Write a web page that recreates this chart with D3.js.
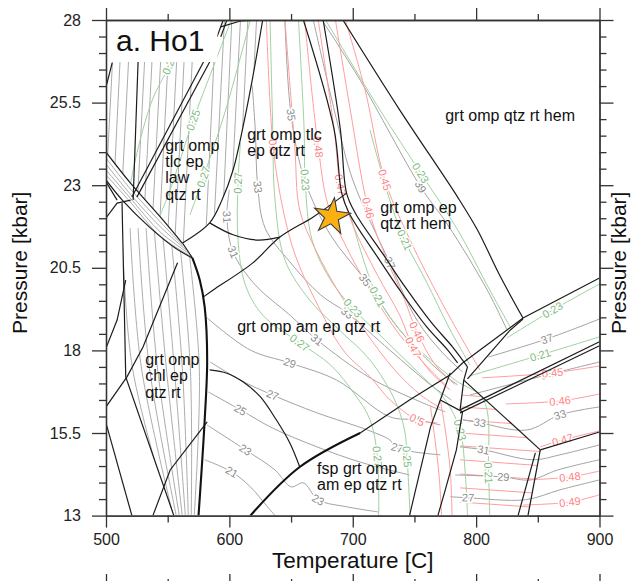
<!DOCTYPE html>
<html><head><meta charset="utf-8">
<script src="https://cdn.jsdelivr.net/npm/d3@7"></script>
<style>
body{margin:0;background:#fff}
svg{display:block;font-family:"Liberation Sans",Arial,sans-serif}
</style></head><body>
<svg id="chart" width="635" height="581"></svg>
<script>
// axis ticks (temperature C, pressure kbar)
const xMajor = [500,600,700,800,900];
const xMinor = [550,650,750,850];
const yMajor = [13,15.5,18,20.5,23,25.5,28];
const yMinor = [13.5,14,14.5,15,16,16.5,17,17.5,18.5,19,19.5,20,21,21.5,22,22.5,23.5,24,24.5,25,26,26.5,27,27.5];

// field boundaries [T, P]
const curvedBounds = [
  [[627,28],[619,26.28],[611,24.76],[603,23.46],[594,22.55],[584,21.86],[562,21.25]],
  [[584,21.86],[603,21.5],[623,21.34],[641,21.43]],
  [[579,19.62],[587,19.83],[619,20.65],[641,21.43],[668,22.04],[695,22.76]],
  [[660,28],[685,24.67],[691,22.76],[697,22.16],[720,20.83],[738,19.83],[760,18.71],[777,18.01],[785,17.62]],
  [[676,28],[690,24.67],[695,22.76],[702,22.16],[725,20.89],[743,19.89],[764,18.83],[781,18.1],[793,17.5]],
  [[692,28],[738,25.28],[785,22.64],[801,21.65],[819,20.28],[838,18.98]],
  [[584,17.41],[598,17.31],[611,17.05],[625,16.6],[638,15.9],[649,15.2],[657,14.48]],
  [[500,24.0],[519.7,23.07],[544,22.04],[561.8,21.25]],
  [[500,23.16],[513.2,22.55],[535.9,21.71],[556.1,21.1],[569.9,20.8]]
];
const straightBounds = [
  [[793,17.5],[790,17.1],[787,16.2]],
  [[562,21.25],[570,20.8]],
  [[706,15.5],[746,16.5],[779,17.26],[789,17.62],[838,18.98],[900,20.19]],
  [[838,18.95],[827,18.59],[793,17.14]],
  [[787,16.2],[900,18.26]],
  [[787,16.11],[900,18.14]],
  [[779,17.32],[773,16.71],[763,15.68],[746,13]],
  [[771,16.5],[789,16.14]],
  [[789,16.14],[784,14.99],[775,13.78],[769,13]],
  [[790,17.1],[852,14.99]],
  [[852,14.99],[900,15.53]],
  [[852,14.99],[842,13]],
  [[848,14.9],[834,13]],
  [[526,26.73],[522,22.55]],
  [[579,26.73],[521,22.64]],
  [[584,26.73],[525,22.64]],
  [[500,25.97],[505,26.7]],
  [[500,23.1],[509,22.55]],
  [[500,22.01],[509,22.46],[520,22.55]],
  [[500,18.07],[509,18.92],[516,20.13]],
  [[500,16.29],[517,17.2],[530,18.1],[544,19.38],[558,20.65]],
  [[500,15.8],[521,13]],
  [[538,13],[552,14.38],[582,15.84]],
  [[513,22.46],[516,17.2],[555,13]],
  [[593,27.79],[609,27.97],[623,28]],
  [[595,28],[590,27.49]],
  [[598,28],[593,27.49]]
];
const thickBounds = [
  [[570,20.8],[576,20.13],[580,19.31],[582,17.71],[580,15.9],[575,13]],
  [[617,13],[657,14.47],[706,15.5]]
];

// field outlines used to hold the dense isopleth fans
const ulField = [[500,28],[627,28],[619,26.28],[611,24.76],[603,23.46],[594,22.55],[584,21.86],[562,21.25],[544,22.04],[519.7,23.07],[500,24.0]];
const bandField = [[513.2,22.46],[535.9,21.71],[556.1,21.1],[569.9,20.8],[576.4,20.13],[580.4,19.31],[582.1,17.71],[579.6,15.9],[574.8,13],[554.5,13],[515.6,17.2]];
const wedgeField = [[787,16.2],[789,16.14],[784,14.99],[775,13.78],[769,13],[842,13],[852,14.99],[790,17.1]];

const ulHatch = [
  [[507,28],[497,20.74]],[[513,28],[503.5,20.74]],[[520,28],[510,20.74]],[[533,28],[523,20.74]],
  [[539,28],[529,20.74]],[[546,28],[536,20.74]],[[552,28],[542,20.74]],[[559,28],[549,20.74]],
  [[565,28],[555,20.74]],[[571.5,28],[562,20.74]],[[589,28],[580,20.74]],[[596,28],[586,20.74]],
  [[602,28],[593,20.74]],[[609,28],[599,20.74]],[[615,28],[605.5,20.74]],[[622,28],[612,20.74]]
];
const bandHatch = [
  [[513,21.7],[521.3,17.5],[552.1,13]],[[519.5,21.7],[528.6,17.5],[554.5,13]],
  [[526,21.7],[535.1,17.5],[556.9,13]],[[532.5,21.7],[541.6,17.5],[559.4,13]],
  [[539,21.7],[548.8,17.5],[561.8,13]],[[545.5,21.7],[555.3,17.5],[564.3,13]],
  [[552,21.7],[561.8,17.5],[566.7,13]],[[558.5,21.7],[568.3,17.5],[569.1,13]],
  [[565,21.7],[575.6,17.5],[571.5,13]]
];
const diagHatch = [
  [[500,23.82],[519.7,22.89],[544,21.89],[562.6,21.16]],
  [[500,23.64],[519.7,22.73],[544,21.74],[565,21.04]],
  [[500,23.46],[519.7,22.61],[544,21.58],[566.7,20.95]],
  [[500,23.31],[519.7,22.49],[544,21.46],[568.3,20.86]]
];
const wedgeRed = [
  [[787,16.65],[856,16.47]],[[787,16.29],[856,16.11]],[[787,15.9],[856,15.71]],
  [[787,15.5],[856,15.32]],[[787,15.11],[856,14.93]],[[787,14.69],[856,14.5]],
  [[787,14.26],[856,14.08]],[[787,13.84],[856,13.66]],[[787,13.41],[856,13.23]]
];

// isopleths: gray (odd numbers), green and red (fractions)
const grayIso = [
  {v:"39", pts:[[675,28],[706,26.18],[755,22.95],[777,21.8],[809,19.83],[825,18.62]], at:[2]},
  {v:"37", pts:[[668,28],[687,24.97],[700,23.16],[730,20.65],[752,18.92],[773,17.92],[789,17.35]], at:[3]},
  {v:"35", pts:[[645,28],[650,25.13],[661,23.16],[682,21.49],[710,20.13],[738,18.62],[771,17.35],[785,16.96]], at:[1,4]},
  {v:"33", pts:[[618.5,26.03],[621,24.67],[623,22.95],[629,21.7],[649,20.68],[674,19.68],[695.5,19.13],[730,18.01],[763,16.96],[780,16.5]], at:[2,6]},
  {v:"31", pts:[[600,22.86],[598,22.04],[603,20.98],[621,19.98],[649,19.07],[671,18.32],[714,17.17],[755,16.44],[775,16.14]], at:[1,2,5]},
  {v:"29", pts:[[582,18.98],[617,18.01],[649,17.62],[687,17.1],[730,15.99],[752,15.9],[771,15.74]], at:[2,5]},
  {v:"27", pts:[[584.5,17.65],[609,17.1],[635,16.65],[671,16.11],[712,15.59],[730,15.29],[736,15.05],[771,14.84]], at:[2,6]},
  {v:"25", pts:[[583,16.74],[609,16.2],[635,15.65],[671,15.08],[706,14.62],[746,14.23]], at:[1]},
  {v:"23", pts:[[582,15.74],[613,14.99],[637,14.38],[650,13.87],[660,13.99],[672,13.48],[696,13.26],[721,13.11]], at:[1,5]},
  {v:"21", pts:[[580,14.69],[602,14.32],[617,13.87],[631,13.26],[637,13.0]], at:[1]},
  {v:"37", pts:[[810,17.8],[857.5,18.35],[900,18.95]], at:[1]},
  {v:"35", pts:[[795,16.65],[857.5,17.26],[900,17.65]], at:[1]},
  {v:"33", pts:[[789,15.9],[803,15.81],[841,15.59],[868,16.05],[900,16.29]], at:[1,3]},
  {v:"31", pts:[[787,15.08],[806,14.99],[846,14.69],[868,14.84],[900,15.14]], at:[1]},
  {v:"29", pts:[[783,14.23],[822,14.17],[844,14.08],[866,14.38],[900,14.69]], at:[1]},
  {v:"27", pts:[[779,13.57],[793.5,13.54],[840,13.48],[868,13.78],[900,14.08]], at:[1]}
];
const greenUL = [
  {v:"0.2", pts:[[557,27.4],[550.5,26.58],[537.5,25.58],[523.7,23.76],[517,22.4]], at:[1]},
  {v:"0.25", pts:[[601.5,28],[588.5,26.73],[570.7,24.97],[552,22.86],[544,22.1]], at:[2]},
  {v:"0.27", pts:[[617,28],[597,25.28],[579,23.25],[568,22.1]], at:[2]}
];
const greenIso = [
  {v:"0.27", pts:[[609,24.28],[607,23.07],[607,21.34],[613,19.98],[627,19.07],[657,18.23],[682,17.56],[702,16.65],[714,15.9],[720,14.78],[721,13.0]], at:[1,5,9]},
  {v:"0.25", pts:[[633,28],[635,24.97],[637,22.55],[645,20.74],[665,19.53],[689,18.62],[714,17.71],[734,16.5],[742,15.59],[744,14.78],[746.5,13]], at:[9]},
  {v:"0.23", pts:[[656,28],[660.6,24.67],[661.4,23.16],[667,21.34],[682,20.13],[700,19.28],[726,18.32],[755,17.26],[775,16.5],[787,15.59],[791,14.38],[793,13]], at:[2,5,9]},
  {v:"0.21", pts:[[698,22.1],[710,20.59],[720,19.62],[738,18.62],[763,17.71],[783,17.1],[806,16.5],[810,14.29],[811,13]], at:[2,7]},
  {v:"0.21", pts:[[714,24.67],[730,22.55],[742,21.34],[759,20.13],[779,18.62],[795,17.56]], at:[2]},
  {v:"0.23", pts:[[678,28],[722,25.28],[755,23.37],[785,21.65],[811,19.83],[829,18.62]], at:[2]},
  {v:"0.23", pts:[[825,18.38],[862,19.22],[900,20.01]], at:[1]},
  {v:"0.21", pts:[[795,17.23],[852,17.86],[900,18.41]], at:[1]}
];
const redIso = [
  {v:"0.5", pts:[[630,28],[635.5,24.16],[643.6,22.25],[653.3,20.89],[669.5,19.53],[692.2,18.01],[714.1,17.2],[730.3,16.5],[752.2,15.9],[768.4,15.81]], at:[1,8]},
  {v:"0.49", pts:[[645,28],[653,24.16],[657,22.25],[670,21.04],[690,19.68],[712,18.47],[734,17.41],[755,16.65],[771,16.26]], at:[]},
  {v:"0.48", pts:[[661,28],[672,24.16],[680,22.4],[694,21.19],[714,19.83],[738,18.47],[759,17.56],[775,16.96]], at:[1]},
  {v:"0.47", pts:[[672,28],[685,24.67],[690,23.01],[700,21.8],[720,20.28],[738,19.07],[749,18.1],[763,17.35],[779,16.8]], at:[2,6]},
  {v:"0.46", pts:[[686,28],[698,25.28],[712.5,22.31],[726,20.89],[742,19.53],[752,18.56],[767,17.56],[783,16.96]], at:[2,5]},
  {v:"0.45", pts:[[694,28],[710,25.88],[726,23.16],[746.5,21.34],[771,19.53],[789,18.32],[803,17.41]], at:[2]},
  {v:"", pts:[[771,16.5],[775,15.59],[779,14.38],[780.5,13]], at:[]},
  {v:"", pts:[[763,16.3],[767,15.2],[770,14.2],[772,13]], at:[]},
  {v:"0.45", pts:[[805,17.17],[862,17.32],[900,17.53]], at:[1]},
  {v:"0.46", pts:[[824,16.38],[868,16.47],[900,16.68]], at:[1]},
  {v:"0.47", pts:[[852,15.08],[870,15.29],[900,15.56]], at:[1]},
  {v:"0.48", pts:[[842,14.08],[876,14.17],[900,14.35]], at:[1]},
  {v:"0.49", pts:[[838,13.32],[876,13.41],[900,13.63]], at:[1]}
];

// field names: anchor [T, P] of first baseline
const fieldNames = [
  {t:["grt omp","tlc ep","law","qtz rt"], at:[548,24.04]},
  {t:["grt omp tlc","ep qtz rt"], at:[614.4,24.37]},
  {t:["grt omp ep","qtz rt hem"], at:[722.2,22.16]},
  {t:["grt omp qtz rt hem"], at:[774.9,24.94]},
  {t:["grt omp am ep qtz rt"], at:[606.3,18.56]},
  {t:["grt omp","chl ep","qtz rt"], at:[531.8,17.56]},
  {t:["fsp grt omp","am ep qtz rt"], at:[671.1,14.26]}
];
const sample = [[683,22.05]];

const svg = d3.select("#chart");
const x = d3.scaleLinear().domain([500,900]).range([106,599.5]);
const y = d3.scaleLinear().domain([13,28]).range([515.6,20]);

const lin = d3.line().x(d => x(d[0])).y(d => y(d[1]));
const smooth = d3.line().x(d => x(d[0])).y(d => y(d[1])).curve(d3.curveCatmullRom.alpha(0.5));
const poly = d => lin(d) + "Z";

const defs = svg.append("defs");
defs.append("clipPath").attr("id","plot").append("rect")
  .attr("x", x(500)).attr("y", y(28)).attr("width", x(900)-x(500)).attr("height", y(13)-y(28));
defs.append("clipPath").attr("id","ul").append("path").attr("d", poly(ulField));
defs.append("clipPath").attr("id","band").append("path").attr("d", poly(bandField));
defs.append("clipPath").attr("id","wedge").append("path").attr("d", poly(wedgeField));

const plot = svg.append("g").attr("clip-path","url(#plot)");

const GRAY = "#a3a3a3", GREEN = "#9fd19f", RED = "#ff9d9d";

plot.append("g").attr("clip-path","url(#ul)").selectAll("path").data(ulHatch).join("path")
  .attr("d", lin).attr("fill","none").attr("stroke",GRAY).attr("stroke-width",0.9);
plot.append("g").attr("clip-path","url(#ul)").selectAll("path").data(greenUL).join("path")
  .attr("d", d => smooth(d.pts)).attr("fill","none").attr("stroke",GREEN).attr("stroke-width",1);
plot.append("g").attr("clip-path","url(#band)").selectAll("path").data(bandHatch).join("path")
  .attr("d", smooth).attr("fill","none").attr("stroke",GRAY).attr("stroke-width",0.9);
plot.append("g").selectAll("path").data(diagHatch).join("path")
  .attr("d", smooth).attr("fill","none").attr("stroke",GRAY).attr("stroke-width",0.9);
plot.append("g").attr("clip-path","url(#wedge)").selectAll("path").data(wedgeRed).join("path")
  .attr("d", lin).attr("fill","none").attr("stroke",RED).attr("stroke-width",1);

plot.append("g").selectAll("path").data(grayIso).join("path")
  .attr("d", d => smooth(d.pts)).attr("fill","none").attr("stroke",GRAY).attr("stroke-width",1);
plot.append("g").selectAll("path").data(greenIso).join("path")
  .attr("d", d => smooth(d.pts)).attr("fill","none").attr("stroke",GREEN).attr("stroke-width",1);
plot.append("g").selectAll("path").data(redIso).join("path")
  .attr("d", d => smooth(d.pts)).attr("fill","none").attr("stroke",RED).attr("stroke-width",1);

// isopleth labels, turned along the line
function addLabels(list, color) {
  const g = plot.append("g");
  list.forEach(l => l.at.forEach(i => {
    const p = l.pts[i], a = l.pts[Math.max(i-1,0)], b = l.pts[Math.min(i+1,l.pts.length-1)];
    let ang = Math.atan2(y(b[1])-y(a[1]), x(b[0])-x(a[0])) * 180 / Math.PI;
    if (ang > 90) ang -= 180;
    if (ang < -90) ang += 180;
    g.append("text")
      .attr("transform", `translate(${x(p[0])},${y(p[1])}) rotate(${ang})`)
      .attr("text-anchor","middle").attr("dy","0.35em")
      .attr("fill", color).attr("stroke","#fff").attr("stroke-width",3).attr("paint-order","stroke")
      .style("font-size","11px").text(l.v);
  }));
}
addLabels(grayIso, "#8c8c8c");
addLabels(greenIso, "#7dbb7d");
addLabels(greenUL, "#7dbb7d");
addLabels(redIso, "#ff7f7f");

plot.append("g").selectAll("path").data(curvedBounds).join("path")
  .attr("d", smooth).attr("fill","none").attr("stroke","#1c1c1c").attr("stroke-width",1.2);
plot.append("g").selectAll("path").data(straightBounds).join("path")
  .attr("d", lin).attr("fill","none").attr("stroke","#1c1c1c").attr("stroke-width",1.2);
plot.append("g").selectAll("path").data(thickBounds).join("path")
  .attr("d", smooth).attr("fill","none").attr("stroke","#111").attr("stroke-width",2.1);

// field names
const fl = plot.append("g").style("font-size","16px").attr("fill","#111");
fieldNames.forEach(f => {
  f.t.forEach((s, i) => fl.append("text").attr("x", x(f.at[0])).attr("y", y(f.at[1]) + i*16.3).text(s));
});

// panel title box
plot.append("rect").attr("x", x(500)).attr("y", y(28)).attr("width", x(590.3)-x(500)).attr("height", y(26.73)-y(28)).attr("fill","#fff");
svg.append("text").attr("x", 116).attr("y", 51).style("font-size","30px").attr("fill","#111").text("a. Ho1");

// sample P-T point
plot.selectAll(".star").data(sample).join("path").attr("class","star")
  .attr("transform", d => `translate(${x(d[0])},${y(d[1])}) rotate(8)`)
  .attr("d", d3.symbol(d3.symbolStar, 410))
  .attr("fill","#fbb012").attr("stroke","#3a3a3a").attr("stroke-width",1.1);

// axes
function styleAxis(g) {
  g.attr("font-family", null).attr("font-size", null);
  g.select(".domain").attr("stroke","#333").attr("stroke-width",1.3);
  g.selectAll(".tick line").attr("stroke","#333").attr("stroke-width",1.3);
  g.selectAll(".tick text").attr("fill","#222").style("font-size","16px");
}
const fmt = d => String(d);
svg.append("g").attr("transform",`translate(0,${y(13)})`)
  .call(d3.axisBottom(x).tickValues(xMajor).tickSize(12).tickPadding(6).tickSizeOuter(0).tickFormat(fmt)).call(styleAxis);
svg.append("g").attr("transform",`translate(0,${y(13)})`)
  .call(d3.axisBottom(x).tickValues(xMinor).tickSize(7).tickSizeOuter(0).tickFormat("")).call(styleAxis);
svg.append("g").attr("transform",`translate(0,${y(28)})`)
  .call(d3.axisTop(x).tickValues(xMajor).tickSize(12).tickSizeOuter(0).tickFormat("")).call(styleAxis);
svg.append("g").attr("transform",`translate(0,${y(28)})`)
  .call(d3.axisTop(x).tickValues(xMinor).tickSize(6).tickSizeOuter(0).tickFormat("")).call(styleAxis);
svg.append("g").attr("transform",`translate(${x(500)},0)`)
  .call(d3.axisLeft(y).tickValues(yMajor).tickSize(14).tickPadding(11).tickSizeOuter(0).tickFormat(fmt)).call(styleAxis);
svg.append("g").attr("transform",`translate(${x(500)},0)`)
  .call(d3.axisLeft(y).tickValues(yMinor).tickSize(7).tickSizeOuter(0).tickFormat("")).call(styleAxis);
svg.append("g").attr("transform",`translate(${x(900)},0)`)
  .call(d3.axisRight(y).tickValues(yMajor).tickSize(14).tickSizeOuter(0).tickFormat("")).call(styleAxis);
svg.append("g").attr("transform",`translate(${x(900)},0)`)
  .call(d3.axisRight(y).tickValues(yMinor).tickSize(7).tickSizeOuter(0).tickFormat("")).call(styleAxis);
// top ticks of the next panel, cut by the page edge
svg.append("g").attr("transform","translate(0,587)")
  .call(d3.axisTop(x).tickValues(xMajor).tickSize(13).tickSizeOuter(0).tickFormat("")).call(styleAxis);
svg.append("g").attr("transform","translate(0,587)")
  .call(d3.axisTop(x).tickValues(xMinor).tickSize(8).tickSizeOuter(0).tickFormat("")).call(styleAxis);

svg.append("text").attr("x", (x(500)+x(900))/2).attr("y", 568).attr("text-anchor","middle")
  .style("font-size","22.5px").attr("fill","#111").text("Temperature [C]");
svg.append("text").attr("transform",`translate(27,${(y(13)+y(28))/2 - 5}) rotate(-90)`).attr("text-anchor","middle")
  .style("font-size","21px").attr("fill","#111").text("Pressure [kbar]");
svg.append("text").attr("transform",`translate(626,${(y(13)+y(28))/2 - 5}) rotate(-90)`).attr("text-anchor","middle")
  .style("font-size","21px").attr("fill","#111").text("Pressure [kbar]");
</script>
</body></html>
